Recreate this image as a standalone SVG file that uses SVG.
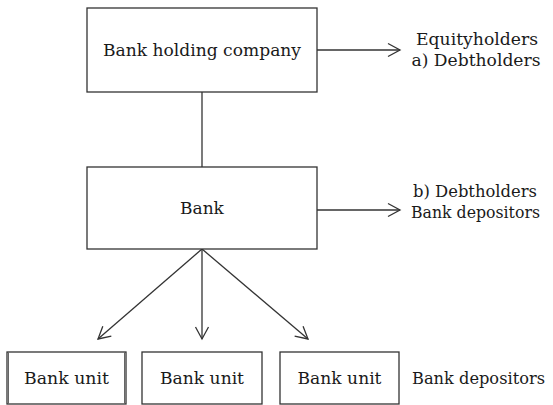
<svg xmlns="http://www.w3.org/2000/svg" width="553" height="405" viewBox="0 0 553 405">
<style>
.box{fill:#fff;stroke:#333;stroke-width:1.3}
.t{font-family:"DejaVu Serif",serif;font-size:17px;fill:#1a1a1a}
.c{text-anchor:middle}
.ln{fill:none;stroke:#333;stroke-width:1.3}
</style>
<defs>
<marker id="ah" markerUnits="userSpaceOnUse" markerWidth="16" markerHeight="16" viewBox="-14 -8 16 16" refX="0" refY="0" orient="auto">
<path d="M-12,-6.5 L0,0 L-12,6.5" fill="none" stroke="#333" stroke-width="1.3"/>
</marker>
</defs>
<g id="connectors">
<line class="ln" x1="202" y1="92" x2="202" y2="167" stroke="#555" stroke-width="2"/>
<line class="ln" x1="317" y1="50" x2="400" y2="50" marker-end="url(#ah)"/>
<line class="ln" x1="317" y1="210" x2="400" y2="210" marker-end="url(#ah)"/>
<line class="ln" x1="202" y1="249" x2="98" y2="339" marker-end="url(#ah)"/>
<line class="ln" x1="202" y1="249" x2="202" y2="339" marker-end="url(#ah)" stroke="#555" stroke-width="1.8"/>
<line class="ln" x1="202" y1="249" x2="308" y2="339" marker-end="url(#ah)"/>
</g>
<g id="holding">
<rect class="box" x="87" y="8" width="230" height="84"/>
<text class="t c" x="202" y="56" textLength="198" lengthAdjust="spacingAndGlyphs">Bank holding company</text>
</g>
<g id="holding-labels">
<text class="t c" x="477" y="45" textLength="122" lengthAdjust="spacingAndGlyphs">Equityholders</text>
<text class="t c" x="476" y="66" textLength="129" lengthAdjust="spacingAndGlyphs">a) Debtholders</text>
</g>
<g id="bank">
<rect class="box" x="87" y="167" width="230" height="82"/>
<text class="t c" x="202" y="214">Bank</text>
</g>
<g id="bank-labels">
<text class="t c" x="475" y="197" textLength="124" lengthAdjust="spacingAndGlyphs">b) Debtholders</text>
<text class="t c" x="475.5" y="218" textLength="129" lengthAdjust="spacingAndGlyphs">Bank depositors</text>
</g>
<g id="unit1">
<rect class="box" x="7" y="352" width="119" height="52"/>
<line x1="8.5" y1="352" x2="8.5" y2="404" stroke="#666" stroke-width="1"/>
<line x1="124.5" y1="352" x2="124.5" y2="404" stroke="#666" stroke-width="1"/>
<text class="t c" x="66.5" y="384" textLength="85" lengthAdjust="spacingAndGlyphs">Bank unit</text>
</g>
<g id="unit2">
<rect class="box" x="142" y="352" width="120" height="52"/>
<text class="t c" x="202" y="384" textLength="84" lengthAdjust="spacingAndGlyphs">Bank unit</text>
</g>
<g id="unit3">
<rect class="box" x="280" y="352" width="119" height="52"/>
<text class="t c" x="339.5" y="384" textLength="84" lengthAdjust="spacingAndGlyphs">Bank unit</text>
</g>
<g id="unit-label">
<text class="t" x="412" y="384" textLength="133" lengthAdjust="spacingAndGlyphs">Bank depositors</text>
</g>
</svg>
